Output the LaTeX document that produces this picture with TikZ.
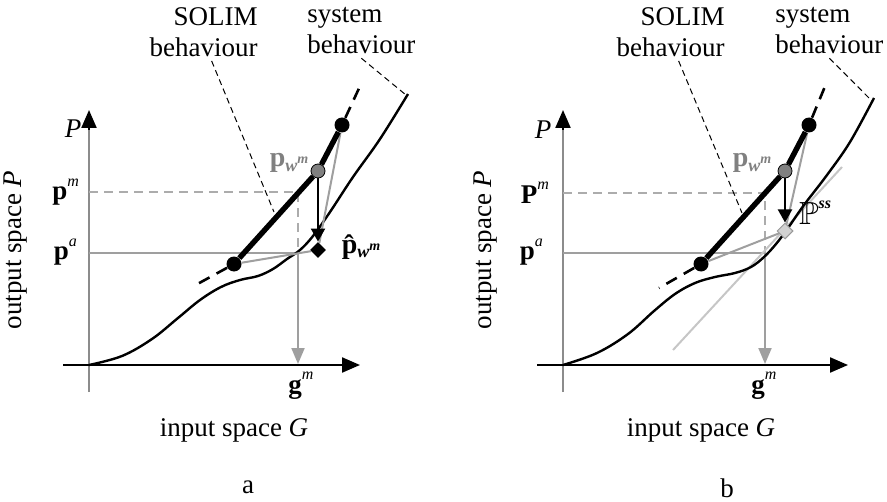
\documentclass[tikz,border=0pt]{standalone}
\usepackage{fontspec}
\setmainfont{Liberation Serif}
\usepackage{amssymb}
\usetikzlibrary{arrows.meta,shapes.geometric}

\newcommand{\wsub}{\raisebox{-0.35ex}{\fontsize{9}{9}\selectfont\itshape w\raisebox{0.9ex}{\fontsize{7}{7}\selectfont m}}}
\newcommand{\supm}[1]{\raisebox{1.1ex}{\fontsize{8}{8}\selectfont\itshape #1}}

\begin{document}
\begin{tikzpicture}[x=0.5pt, y=-0.5pt,
		every node/.style={font=\fontsize{13.5}{15.5}\selectfont},
		axisline/.style={line width=1.1pt, -{Triangle[length=9pt,width=7.5pt]}},
		guide/.style={gray!75, line width=1pt},
		guidedash/.style={gray!65, line width=1pt, dash pattern=on 4.5pt off 3pt},
		guidearrow/.style={guide, -{Triangle[length=8pt,width=6.5pt]}},
		sysline/.style={line width=1.2pt},
		solim/.style={line width=2.7pt},
		solimext/.style={line width=1.3pt, dash pattern=on 6pt off 4pt},
		leader/.style={line width=0.5pt, dash pattern=on 3pt off 2pt},
		blackdot/.style={circle, fill=black, inner sep=0pt, minimum size=7.5pt},
		graydot/.style={circle, fill=gray, draw=black, line width=0.4pt, inner sep=0pt, minimum size=7pt},
		marker/.style={diamond, inner sep=0pt, minimum size=8pt},
		graylabel/.style={text=gray, font=\fontsize{14}{15}\selectfont\bfseries}]
	\useasboundingbox (0,0) rectangle (887,502);

	% ---- panel a ----
	\draw[gray!90, line width=1pt] (89,392) -- (89,125);
	\draw[axisline] (89,130) -- (89,110);
	\draw[axisline] (63,365) -- (360,365);
	\draw[guidedash] (89,192) -- (298,192) -- (298,253);
	\draw[guide] (89,253) -- (298,253);
	\draw[guidearrow] (298,253) -- (298,364);
	\draw[sysline] plot[smooth, tension=0.6] coordinates {(89,365) (122,356) (152,339) (178,318) (200,300) (221,287) (240,280) (258,276) (273,269) (287,259) (300,250) (313,236) (330,212) (353,177) (380,139) (408,94)};

	\node[blackdot] (loA) at (234,264) {};
	\node[graydot] (wA) at (318,171) {};
	\node[blackdot] (hiA) at (342,125) {};
	\node[marker, fill=black] (hatA) at (318,250) {};
	\coordinate (extloA) at (192,287);
	\coordinate (exthiA) at (361,84);
	\coordinate (solimtipA) at (274,212);
	\coordinate (systipA) at (406,95);

	\draw[guide] (loA) -- (hatA);
	\draw[guide] (hiA) -- (hatA);
	\draw[solim] (loA) -- (wA) -- (hiA);
	\draw[solimext] (loA) -- (extloA);
	\draw[solimext] (hiA) -- (exthiA);
	\draw[line width=1pt, -{Triangle[length=6.5pt,width=7pt]}] (wA) -- (hatA);

	\node[anchor=north east, align=right, inner sep=0pt] (solimA) at (258,7) {SOLIM\\behaviour};
	\node[anchor=north west, align=left, inner sep=0pt] (sysA) at (307,7) {system\\behaviour};
	\draw[leader] ([xshift=4pt, yshift=-2pt]solimA.south) -- (solimtipA);
	\draw[leader] ([yshift=-2pt]sysA.south) -- (systipA);

	\node (PA) at (73,129) {\textit{P}};
	\node[anchor=east] (pmA) at (86,192) {\textbf{p}\supm{m}};
	\node[anchor=east] (paA) at (84,252) {\textbf{p}\supm{a}};
	\node (gmA) at (301,386) {\textbf{g}\supm{m}};
	\node[graylabel] (pwA) at (289,163) {p\wsub};
	\node[font=\fontsize{14}{15}\selectfont\bfseries] (phA) at (361,247) {\^{p}\wsub};
	\node (xlabA) at (234,430) {input space \textit{G}};
	\node[rotate=90] (ylabA) at (16,250) {output space \textit{P}};
	\node (capA) at (248,487) {a};

	% ---- panel b ----
	\draw[gray!90, line width=1pt] (563,392) -- (563,125);
	\draw[axisline] (563,130) -- (563,110);
	\draw[axisline] (537,365) -- (848,365);
	\draw[guidedash] (563,193) -- (765,193) -- (765,253);
	\draw[guide] (563,253) -- (765,253);
	\draw[guidearrow] (765,253) -- (765,364);
	\draw[gray!45, line width=1pt] (673,350) -- (842,167);
	\draw[sysline] plot[smooth, tension=0.6] coordinates {(563,365) (597,353) (628,334) (654,311) (675,294) (695,283) (715,277) (735,273) (751,267) (764,257) (776,244) (788,228) (804,205) (827,175) (850,142) (874,98)};

	\node[blackdot] (loB) at (701,264) {};
	\node[graydot] (wB) at (785,171) {};
	\node[blackdot] (hiB) at (809,125) {};
	\node[marker, fill=gray!35, draw=gray!80, line width=0.5pt] (ssB) at (785,231) {};
	\coordinate (extloB) at (659,288);
	\coordinate (exthiB) at (826,84);
	\coordinate (solimtipB) at (742,213);
	\coordinate (systipB) at (871,100);

	\draw[guide] (loB) -- (ssB);
	\draw[guide] (hiB) -- (ssB);
	\draw[solim] (loB) -- (wB) -- (hiB);
	\draw[solimext] (loB) -- (extloB);
	\draw[solimext] (hiB) -- (exthiB);
	\draw[line width=1pt, -{Triangle[length=6.5pt,width=7pt]}] (wB) -- (ssB);

	\node[anchor=north east, align=right, inner sep=0pt] (solimB) at (725,7) {SOLIM\\behaviour};
	\node[anchor=north west, align=left, inner sep=0pt] (sysB) at (775,7) {system\\behaviour};
	\draw[leader] ([xshift=4pt, yshift=-2pt]solimB.south) -- (solimtipB);
	\draw[leader] ([yshift=-2pt]sysB.south) -- (systipB);

	\node (PB) at (543,130) {\textit{P}};
	\node[anchor=east] (pmB) at (556,193) {\textbf{P}\supm{m}};
	\node[anchor=east] (paB) at (550,252) {\textbf{p}\supm{a}};
	\node (gmB) at (764,386) {\textbf{g}\supm{m}};
	\node[graylabel] (pwB) at (752,163) {p\wsub};
	\node (ssl) at (815,213) {\fontsize{16}{16}\selectfont$\mathbb{P}$\supm{\bfseries ss}};
	\node (xlabB) at (701,430) {input space \textit{G}};
	\node[rotate=90] (ylabB) at (486,250) {output space \textit{P}};
	\node (capB) at (727,488) {b};
\end{tikzpicture}
\end{document}
